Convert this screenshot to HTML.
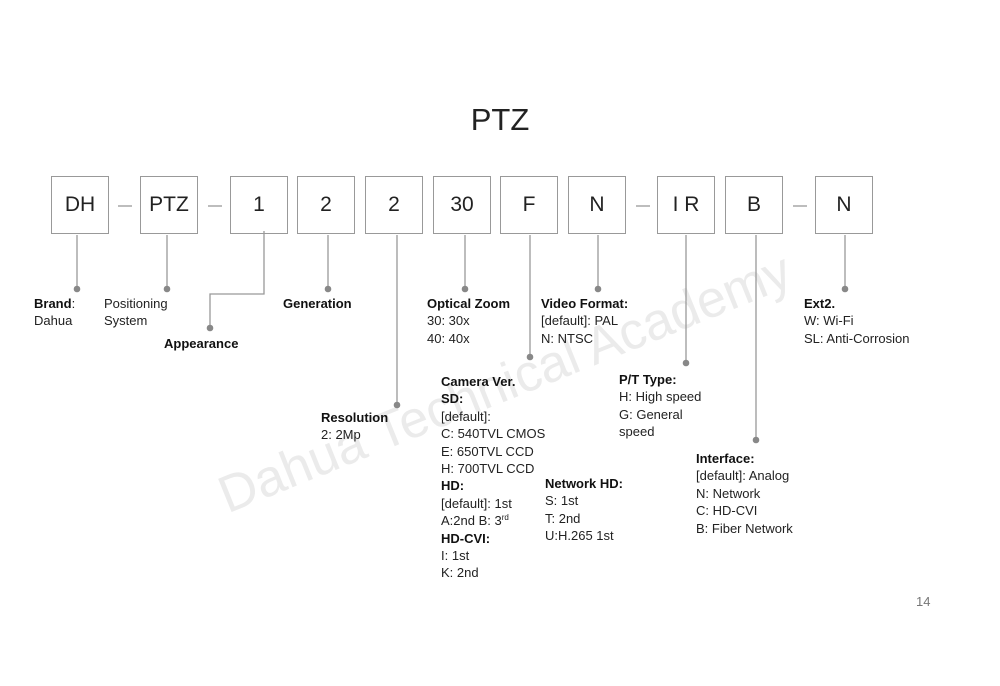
<!DOCTYPE html>
<html><head><style>
body{margin:0;width:1000px;height:686px;background:#fff;position:relative;overflow:hidden;font-family:"Liberation Sans",sans-serif;color:#222}
.b{position:absolute;top:176px;width:58px;height:58px;border:1px solid #999;box-sizing:border-box;font-size:21px;display:flex;align-items:center;justify-content:center;color:#222}
.t{position:absolute;font-size:13px;line-height:17.4px;white-space:nowrap}
.t b{font-weight:bold;color:#111}
sup{font-size:8px;line-height:0;vertical-align:5px}
.wm{position:absolute;font-size:52px;color:#ebebeb;transform-origin:left top;white-space:nowrap}
</style></head><body>
<div class="wm" style="left:210px;top:470px;transform:rotate(-22deg)">Dahua Technical Academy</div>
<div style="position:absolute;left:0;width:1000px;top:102px;text-align:center;font-size:31px">PTZ</div>
<svg style="position:absolute;left:0;top:0" width="1000" height="686">
<g stroke="#999" stroke-width="1.3" fill="none">
<line x1="118" y1="206" x2="132" y2="206"/><line x1="208" y1="206" x2="222" y2="206"/>
<line x1="636" y1="206" x2="650" y2="206"/><line x1="793" y1="206" x2="807" y2="206"/>
<line x1="77" y1="235" x2="77" y2="289"/><line x1="167" y1="235" x2="167" y2="289"/>
<polyline points="264,231 264,294 210,294 210,328"/>
<line x1="328" y1="235" x2="328" y2="289"/><line x1="397" y1="235" x2="397" y2="405"/>
<line x1="465" y1="235" x2="465" y2="289"/><line x1="530" y1="235" x2="530" y2="357"/>
<line x1="598" y1="235" x2="598" y2="289"/><line x1="686" y1="235" x2="686" y2="363"/>
<line x1="756" y1="235" x2="756" y2="440"/><line x1="845" y1="235" x2="845" y2="289"/>
</g>
<g fill="#888">
<circle cx="77" cy="289" r="3.3"/><circle cx="167" cy="289" r="3.3"/><circle cx="210" cy="328" r="3.3"/>
<circle cx="328" cy="289" r="3.3"/><circle cx="397" cy="405" r="3.3"/><circle cx="465" cy="289" r="3.3"/>
<circle cx="530" cy="357" r="3.3"/><circle cx="598" cy="289" r="3.3"/><circle cx="686" cy="363" r="3.3"/>
<circle cx="756" cy="440" r="3.3"/><circle cx="845" cy="289" r="3.3"/>
</g></svg>
<div class="b" style="left:51px">DH</div><div class="b" style="left:140px">PTZ</div>
<div class="b" style="left:230px">1</div><div class="b" style="left:297px">2</div>
<div class="b" style="left:365px">2</div><div class="b" style="left:433px">30</div>
<div class="b" style="left:500px">F</div><div class="b" style="left:568px">N</div>
<div class="b" style="left:657px">I R</div><div class="b" style="left:725px">B</div>
<div class="b" style="left:815px">N</div>
<div class="t" style="left:34px;top:295px"><b>Brand</b>:<br>Dahua</div>
<div class="t" style="left:104px;top:295px">Positioning<br>System</div>
<div class="t" style="left:164px;top:335px"><b>Appearance</b></div>
<div class="t" style="left:283px;top:295px"><b>Generation</b></div>
<div class="t" style="left:321px;top:409px"><b>Resolution</b><br>2: 2Mp</div>
<div class="t" style="left:427px;top:295px"><b>Optical Zoom</b><br>30: 30x<br>40: 40x</div>
<div class="t" style="left:541px;top:295px"><b>Video Format:</b><br>[default]: PAL<br>N: NTSC</div>
<div class="t" style="left:441px;top:373px"><b>Camera Ver.</b><br><b>SD:</b><br>[default]:<br>C: 540TVL CMOS<br>E: 650TVL CCD<br>H: 700TVL CCD<br><b>HD:</b><br>[default]: 1st<br>A:2nd B: 3<sup>rd</sup><br><b>HD-CVI:</b><br>I: 1st<br>K: 2nd</div>
<div class="t" style="left:545px;top:475px"><b>Network HD:</b><br>S: 1st<br>T: 2nd<br>U:H.265 1st</div>
<div class="t" style="left:619px;top:371px"><b>P/T Type:</b><br>H: High speed<br>G: General<br>speed</div>
<div class="t" style="left:696px;top:450px"><b>Interface:</b><br>[default]: Analog<br>N: Network<br>C: HD-CVI<br>B: Fiber Network</div>
<div class="t" style="left:804px;top:295px"><b>Ext2.</b><br>W: Wi-Fi<br>SL: Anti-Corrosion</div>
<div class="t" style="left:916px;top:593px;color:#777">14</div>
</body></html>
